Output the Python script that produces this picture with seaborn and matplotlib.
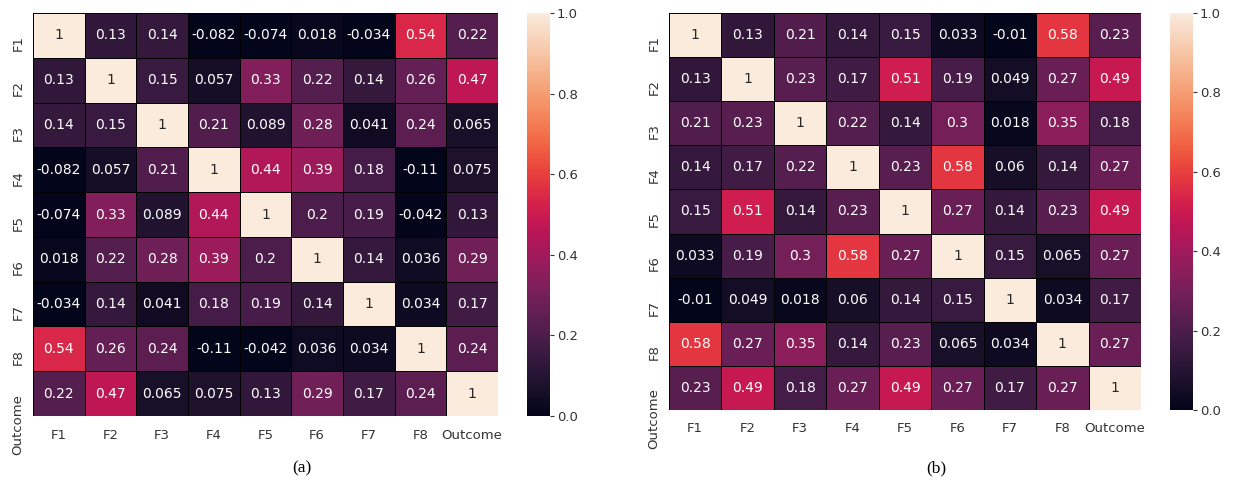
import numpy as np
import pandas as pd
import matplotlib
matplotlib.use("Agg")
import matplotlib.pyplot as plt
import seaborn as sns

labels = ["F1", "F2", "F3", "F4", "F5", "F6", "F7", "F8", "Outcome"]

# (a) correlation matrix
corr_a = [
    [1, 0.13, 0.14, -0.082, -0.074, 0.018, -0.034, 0.54, 0.22],
    [0.13, 1, 0.15, 0.057, 0.33, 0.22, 0.14, 0.26, 0.47],
    [0.14, 0.15, 1, 0.21, 0.089, 0.28, 0.041, 0.24, 0.065],
    [-0.082, 0.057, 0.21, 1, 0.44, 0.39, 0.18, -0.11, 0.075],
    [-0.074, 0.33, 0.089, 0.44, 1, 0.2, 0.19, -0.042, 0.13],
    [0.018, 0.22, 0.28, 0.39, 0.2, 1, 0.14, 0.036, 0.29],
    [-0.034, 0.14, 0.041, 0.18, 0.19, 0.14, 1, 0.034, 0.17],
    [0.54, 0.26, 0.24, -0.11, -0.042, 0.036, 0.034, 1, 0.24],
    [0.22, 0.47, 0.065, 0.075, 0.13, 0.29, 0.17, 0.24, 1],
]

# (b) correlation matrix
corr_b = [
    [1, 0.13, 0.21, 0.14, 0.15, 0.033, -0.01, 0.58, 0.23],
    [0.13, 1, 0.23, 0.17, 0.51, 0.19, 0.049, 0.27, 0.49],
    [0.21, 0.23, 1, 0.22, 0.14, 0.3, 0.018, 0.35, 0.18],
    [0.14, 0.17, 0.22, 1, 0.23, 0.58, 0.06, 0.14, 0.27],
    [0.15, 0.51, 0.14, 0.23, 1, 0.27, 0.14, 0.23, 0.49],
    [0.033, 0.19, 0.3, 0.58, 0.27, 1, 0.15, 0.065, 0.27],
    [-0.01, 0.049, 0.018, 0.06, 0.14, 0.15, 1, 0.034, 0.17],
    [0.58, 0.27, 0.35, 0.14, 0.23, 0.065, 0.034, 1, 0.27],
    [0.23, 0.49, 0.18, 0.27, 0.49, 0.27, 0.17, 0.27, 1],
]

sns.set_style("white")
plt.rcParams["font.family"] = ["DejaVu Sans"]

fig = plt.figure(figsize=(12.35, 4.82), dpi=100)

# (matrix, tag, tag x, heatmap box, colorbar box)
panels = [
    (corr_a, "(a)", 0.2445, [0.0267, 0.1369, 0.3765, 0.836], [0.4267, 0.1369, 0.0186, 0.836]),
    (corr_b, "(b)", 0.758, [0.5417, 0.1494, 0.3822, 0.8237], [0.9474, 0.1494, 0.0186, 0.8237]),
]

for data, tag, tx, pos, cpos in panels:
    df = pd.DataFrame(data, index=labels, columns=labels)
    ax = fig.add_axes(pos)
    cax = fig.add_axes(cpos)
    sns.heatmap(df, ax=ax, cbar_ax=cax, vmin=0, vmax=1, annot=True, fmt=".2g",
                linewidths=0.6, linecolor="black", annot_kws={"size": 10})
    ax.tick_params(axis="both", length=0, labelsize=9.5, colors="#333333")
    ax.tick_params(axis="x", pad=9)
    ax.tick_params(axis="y", pad=6)
    plt.setp(ax.get_yticklabels(), rotation=90, va="top")
    plt.setp(ax.get_xticklabels(), rotation=0)
    cax.tick_params(length=3, width=0.8, labelsize=9.5, colors="#333333", pad=2)
    cax.set_yticks([0, 0.2, 0.4, 0.6, 0.8, 1.0])
    cax.set_yticklabels(["0.0", "0.2", "0.4", "0.6", "0.8", "1.0"])
    # panel tag below
    fig.text(tx, 1 - 468 / 482, tag, ha="center", va="center",
             fontsize=12.5, family="Liberation Serif", color="black")

fig.savefig("out.png", dpi=100)
